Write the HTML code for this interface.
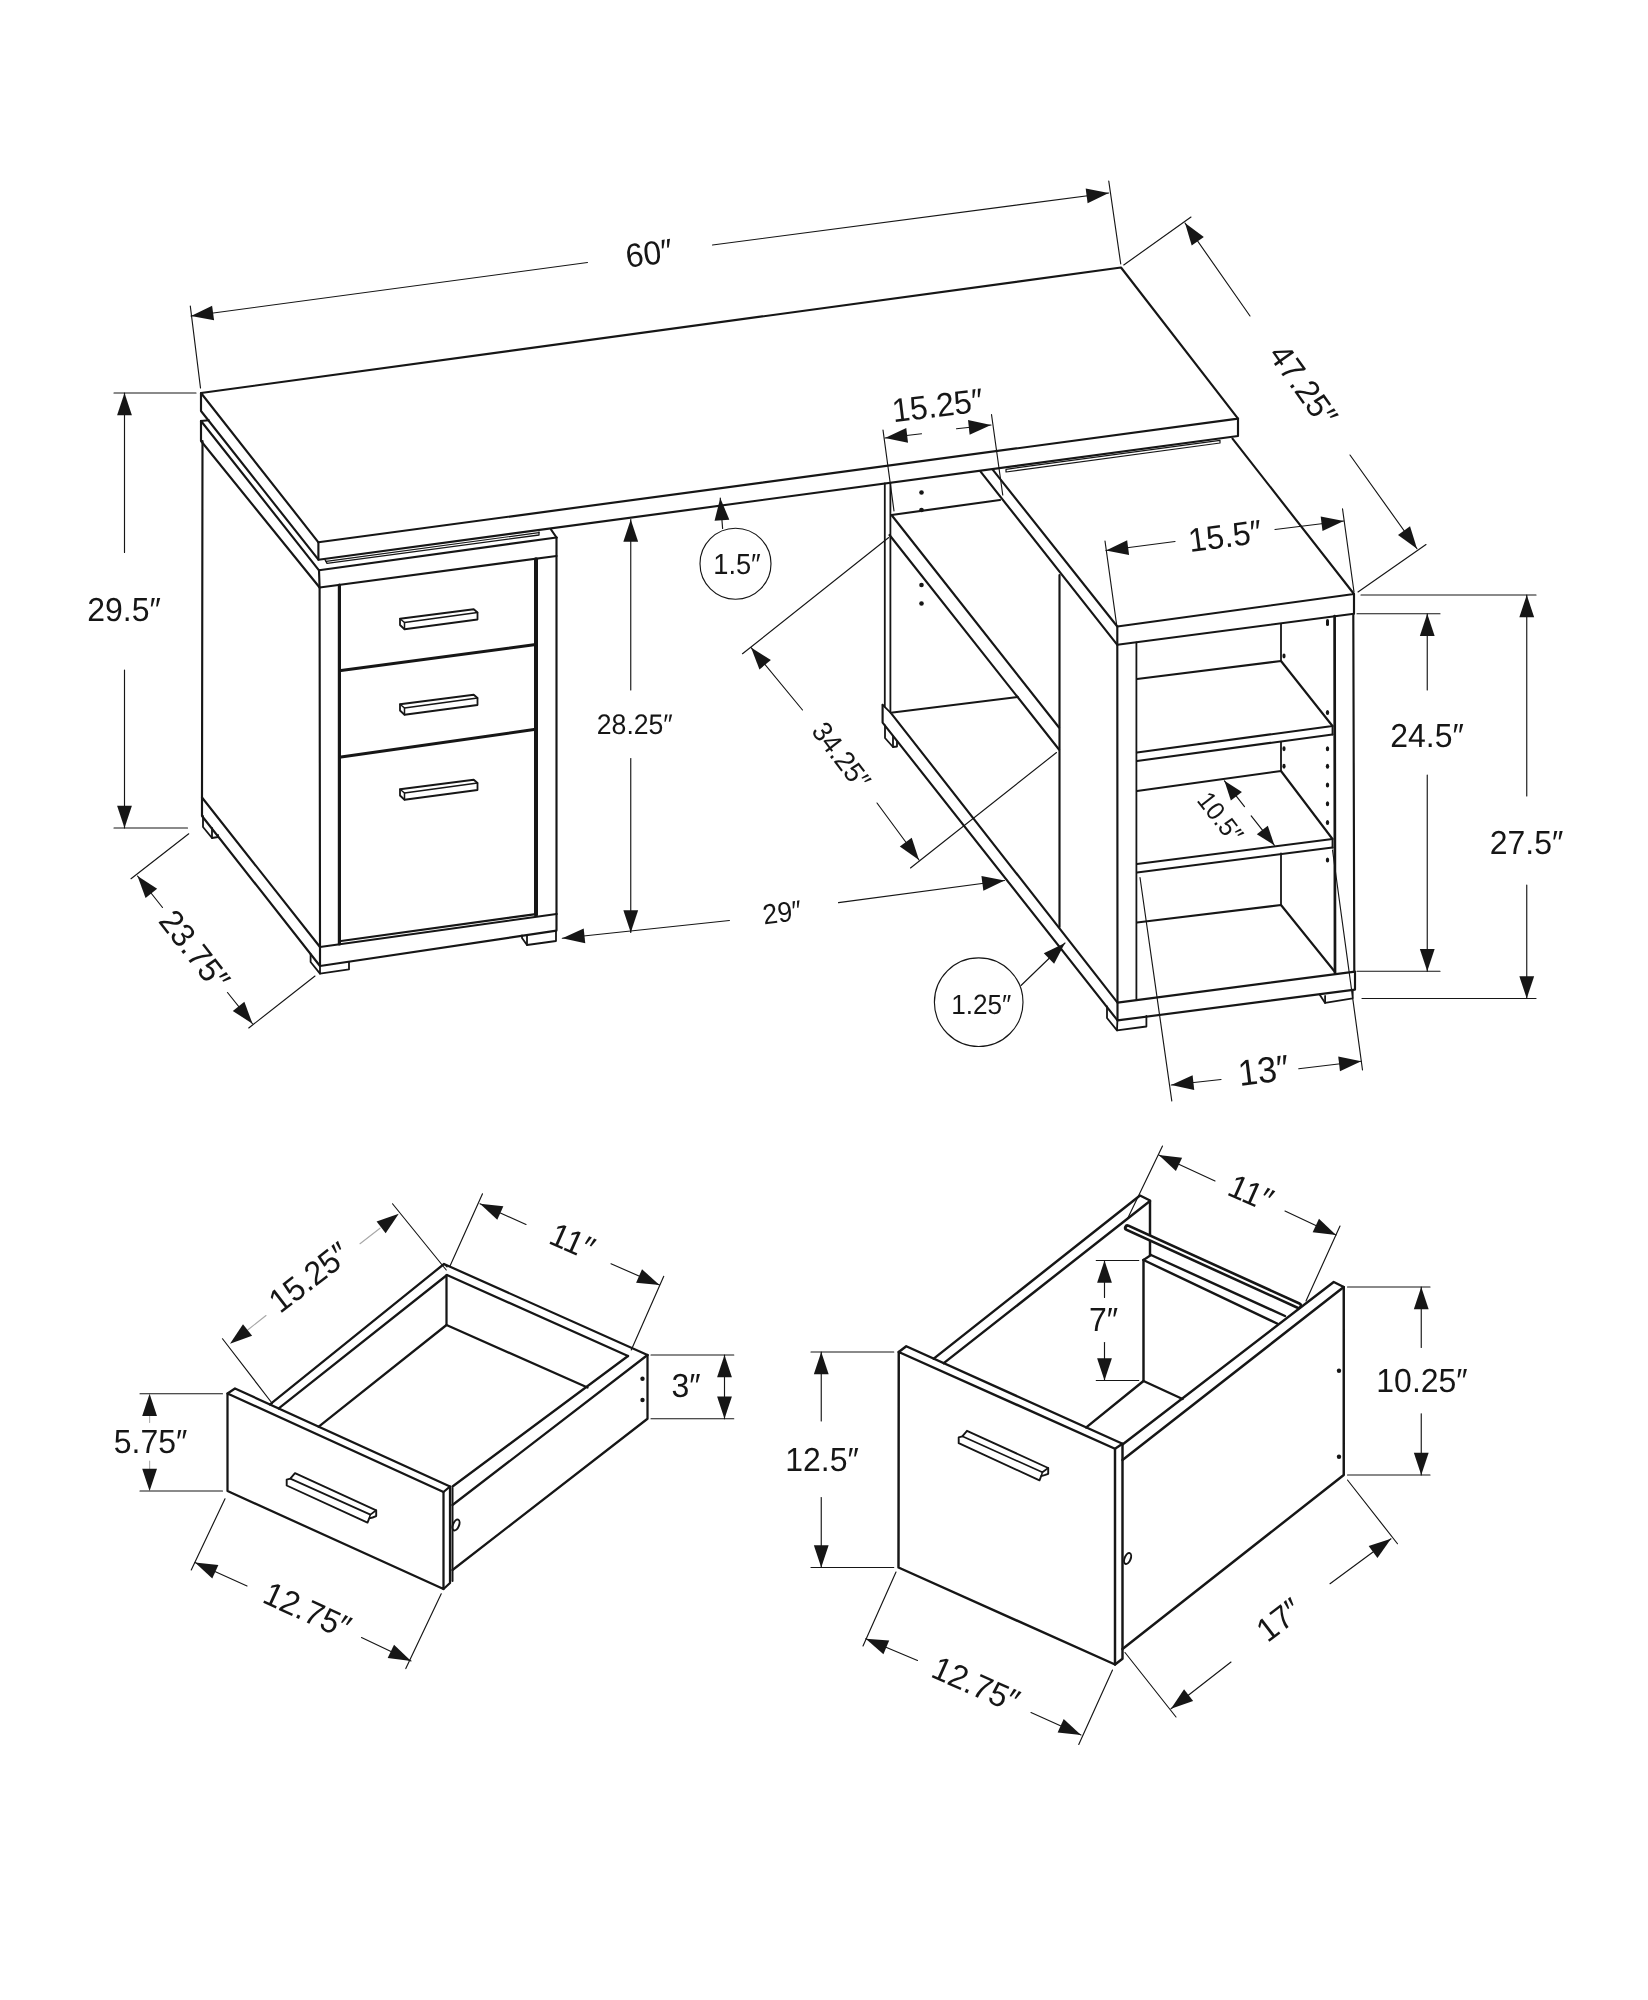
<!DOCTYPE html>
<html lang="en"><head><meta charset="utf-8"><title>Desk dimensions</title>
<style>
html,body{margin:0;padding:0;background:#fff}
body{width:1648px;height:2000px;overflow:hidden}
svg{display:block;will-change:transform}
svg path,svg circle,svg ellipse{fill:none;stroke:#161616;stroke-linecap:round;stroke-linejoin:round}
svg .fd{fill:#161616;stroke:none}
svg text{text-rendering:geometricPrecision;font-family:"Liberation Sans",Arial,Helvetica,sans-serif;fill:#161616;stroke:none}
</style></head><body>
<svg width="1648" height="2000" viewBox="0 0 1648 2000">
<rect x="0" y="0" width="1648" height="2000" fill="#fff" stroke="none"/>
<g id="desk">
<path d="M201 393 L1121 267.5 L1238 418.6 L318.4 542.3 Z" stroke-width="2.15" />
<path d="M201 393 L201 411 L318.4 559.7 L1238 436 L1238 418.6" stroke-width="2.15" />
<path d="M318.4 542.3 L318.4 559.7" stroke-width="2.15" />
<path d="M201 421 L319 570.3 L556.5 537.5" stroke-width="2.15" />
<path d="M201 421 L208.6 420.2" stroke-width="2.15" />
<path d="M201 421 L201 441 L319.6 587.5 L556.5 556" stroke-width="2.15" />
<path d="M319 570.3 L319.6 587.5" stroke-width="2.15" />
<path d="M556.5 537.5 L551 529.5" stroke-width="2.15" />
<path d="M325 559.6 L327 563.4 L539 535 L539 532" stroke-width="1.3" />
<path d="M326.2 561.3 L539 532.6" stroke-width="1.2" />
<path d="M202.5 441 L202 797.5" stroke-width="2.15" />
<path d="M319.6 587.5 L320 947" stroke-width="2.15" />
<path d="M556.5 537.5 L556.5 914" stroke-width="2.15" />
<path d="M202 797.5 L320 947 L556.5 914" stroke-width="2.15" />
<path d="M202 797.5 L202 816 L320 966 L556.5 930.6 L556.5 914" stroke-width="2.15" />
<path d="M320 947 L320 966" stroke-width="2.15" />
<path d="M339.4 585 L339.4 944" stroke-width="3.2" stroke-linecap="butt"/>
<path d="M536 559.2 L536 915" stroke-width="4" stroke-linecap="butt"/>
<path d="M341 670.5 L534 644.7" stroke-width="3" />
<path d="M341 757 L534 729.5" stroke-width="3" />
<path d="M341 941 L534 914.4" stroke-width="2.2" />
<path d="M400 618.75 L473.75 609.25 L477.5 612.5 L477.5 619.5 L404.5 629.25 L400 625 Z" stroke-width="1.8" />
<path d="M400 618.75 L404.5 622.5 L477.5 612.5" stroke-width="1.5" />
<path d="M404.5 622.5 L404.5 629.25" stroke-width="1.5" />
<path d="M400 704.25 L473.75 694.75 L477.5 698 L477.5 705 L404.5 714.75 L400 710.5 Z" stroke-width="1.8" />
<path d="M400 704.25 L404.5 708 L477.5 698" stroke-width="1.5" />
<path d="M404.5 708 L404.5 714.75" stroke-width="1.5" />
<path d="M400 789.25 L473.75 779.75 L477.5 783 L477.5 790 L404.5 799.75 L400 795.5 Z" stroke-width="1.8" />
<path d="M400 789.25 L404.5 793 L477.5 783" stroke-width="1.5" />
<path d="M404.5 793 L404.5 799.75" stroke-width="1.5" />
<path d="M310.6 954 L310.6 962 L320 973.6 L349 969.4 L349 961.8" stroke-width="1.8" />
<path d="M320 966 L320 973.6" stroke-width="1.8" />
<path d="M203 816 L203 827 L212 838 L218 837 L218 835" stroke-width="1.8" />
<path d="M212 828 L212 838" stroke-width="1.8" />
<path d="M522 935.3 L522 938 L527 945 L556 941 L556 930.7" stroke-width="1.8" />
<path d="M527 935 L527 945" stroke-width="1.8" />
</g>
<g id="right">
<path d="M884.8 483.5 L884.8 706.5" stroke-width="1.8" />
<path d="M890.4 483 L890.4 712" stroke-width="1.8" />
<path d="M1000 500 L891.5 515 L1059 727.5" stroke-width="2.15" />
<path d="M889.5 535 L1059 749.5" stroke-width="2.15" />
<path d="M1017.75 697 L890.8 712.8 L1117.5 1002.6" stroke-width="2.15" />
<path d="M882.6 704.8 L890.8 712.8" stroke-width="1.8" />
<path d="M882.6 704.8 L882.6 722.6 L1117.5 1020.4" stroke-width="2.15" />
<path d="M885 725.5 L885 738 L893 747 L897 746.5 L897 741.5" stroke-width="1.8" />
<path d="M893 736 L893 747" stroke-width="1.8" />
<circle class="fd" cx="921.5" cy="492.5" r="2.3"/>
<circle class="fd" cx="921.5" cy="510" r="2.3"/>
<circle class="fd" cx="921.5" cy="585" r="2.3"/>
<circle class="fd" cx="921.5" cy="603.5" r="2.3"/>
<path d="M992.7 469.6 L1117.3 626.5 L1354 594 L1232.5 438.6" stroke-width="2.15" />
<path d="M980.2 471.2 L1117.3 644.8 L1354 613.75 L1354 594" stroke-width="2.15" />
<path d="M1117.3 626.5 L1117.3 644.8" stroke-width="2.15" />
<path d="M1006 469.3 L1220 440.4 L1220 443 L1006 472 Z" stroke-width="1.2" />
<path d="M1059.5 575 L1059.5 927" stroke-width="2.15" />
<path d="M1117.3 644.8 L1117.5 1002.6" stroke-width="2.15" />
<path d="M1136.4 642.5 L1136.4 999" stroke-width="1.8" />
<path d="M1334.6 616 L1335 973" stroke-width="2.7" />
<path d="M1353.3 613.75 L1354.3 971.6" stroke-width="2.15" />
<path d="M1281 624 L1281 661" stroke-width="1.8" />
<path d="M1281 742 L1281 771" stroke-width="1.8" />
<path d="M1281 853.5 L1281 905" stroke-width="1.8" />
<path d="M1137 679 L1281 661 L1332.5 726 L1137 752.5" stroke-width="2.15" />
<path d="M1332.5 734.5 L1137 761" stroke-width="2.15" />
<path d="M1332.5 726 L1332.5 734.5" stroke-width="1.8" />
<path d="M1137 791 L1281 771 L1332.5 839 L1137 864" stroke-width="2.15" />
<path d="M1332.5 847.5 L1137 872.5" stroke-width="2.15" />
<path d="M1332.5 839 L1332.5 847.5" stroke-width="1.8" />
<path d="M1137 922.5 L1281 905 L1335 972" stroke-width="2.15" />
<path d="M1117.5 1002.6 L1355 971.6 L1355 989.6 L1117.5 1020.4 L1117.5 1002.6" stroke-width="2.15" />
<path d="M1107 1006.5 L1107 1018 L1117 1030.4 L1146.4 1026.5 L1146.4 1016" stroke-width="1.8" />
<path d="M1117.4 1020.4 L1117 1030.4" stroke-width="1.8" />
<path d="M1319.6 994.4 L1325.1 1002.9 L1352.7 998.3 L1352.7 990.2" stroke-width="1.8" />
<path d="M1325.1 996 L1325.1 1002.9" stroke-width="1.8" />
<ellipse class="fd" cx="0" cy="0" rx="1.7" ry="2.5" transform="translate(1327.5 712.5) rotate(0)"/>
<ellipse class="fd" cx="0" cy="0" rx="1.7" ry="2.5" transform="translate(1327.5 748.75) rotate(0)"/>
<ellipse class="fd" cx="0" cy="0" rx="1.7" ry="2.5" transform="translate(1327.5 766.25) rotate(0)"/>
<ellipse class="fd" cx="0" cy="0" rx="1.7" ry="2.5" transform="translate(1327.5 785) rotate(0)"/>
<ellipse class="fd" cx="0" cy="0" rx="1.7" ry="2.5" transform="translate(1327.5 803.75) rotate(0)"/>
<ellipse class="fd" cx="0" cy="0" rx="1.7" ry="2.5" transform="translate(1327.5 822.5) rotate(0)"/>
<ellipse class="fd" cx="0" cy="0" rx="1.7" ry="2.5" transform="translate(1327.5 860) rotate(0)"/>
<path d="M1327.5 620.5 L1327.5 624.5" stroke-width="3" />
<ellipse class="fd" cx="0" cy="0" rx="1.6" ry="2.4" transform="translate(1284 656) rotate(0)"/>
<ellipse class="fd" cx="0" cy="0" rx="1.6" ry="2.4" transform="translate(1284 748.75) rotate(0)"/>
<ellipse class="fd" cx="0" cy="0" rx="1.6" ry="2.4" transform="translate(1284 766.25) rotate(0)"/>
</g>
<g id="deskdims">
<path d="M190.3 306 L200.5 388" stroke-width="1.15" />
<path d="M1108.75 181 L1120.75 264" stroke-width="1.15" />
<path d="M587.5 262.5 L191 316" stroke-width="1.15" />
<polygon points="191,316 212.11,305.68 214.09,320.35" fill="#161616" stroke="none"/>
<path d="M712.5 245 L1108.75 193" stroke-width="1.15" />
<polygon points="1108.75,193 1087.6,203.24 1085.68,188.56" fill="#161616" stroke="none"/>
<text transform="translate(649 253) rotate(-7.7) scale(0.96 1)" x="0" y="11.82" font-size="33.3" text-anchor="middle">60″</text>
<path d="M114 393 L196 393" stroke-width="1.15" />
<path d="M114 828 L187.5 828" stroke-width="1.15" />
<path d="M124.5 552.5 L124.5 393" stroke-width="1.15" />
<polygon points="124.5,393 131.9,415.3 117.1,415.3" fill="#161616" stroke="none"/>
<path d="M124.5 670 L124.5 828" stroke-width="1.15" />
<polygon points="124.5,828 117.1,805.7 131.9,805.7" fill="#161616" stroke="none"/>
<text transform="translate(124 609.5) scale(0.96 1)" x="0" y="11.82" font-size="33.3" text-anchor="middle">29.5″</text>
<path d="M188.75 833.75 L131 878.75" stroke-width="1.15" />
<path d="M315 976 L248.75 1028" stroke-width="1.15" />
<path d="M162.5 907.5 L137.5 876" stroke-width="1.15" />
<polygon points="137.5,876 157.16,888.87 145.57,898.07" fill="#161616" stroke="none"/>
<path d="M227.5 992.5 L252.5 1023.75" stroke-width="1.15" />
<polygon points="252.5,1023.75 232.79,1010.96 244.35,1001.71" fill="#161616" stroke="none"/>
<text transform="translate(195 950) rotate(52) scale(0.96 1)" x="0" y="11.82" font-size="33.3" text-anchor="middle">23.75″</text>
<path d="M630.75 690 L630.75 519.5" stroke-width="1.15" />
<polygon points="630.75,519.5 638.15,541.8 623.35,541.8" fill="#161616" stroke="none"/>
<path d="M630.75 758.5 L630.75 932.5" stroke-width="1.15" />
<polygon points="630.75,932.5 623.35,910.2 638.15,910.2" fill="#161616" stroke="none"/>
<text transform="translate(634.8 723.9) scale(0.94 1)" x="0" y="10.05" font-size="28.3" text-anchor="middle">28.25″</text>
<circle cx="735.5" cy="563.75" r="35.5" stroke-width="1.15"/>
<path d="M722.6 528.5 L720.25 498" stroke-width="1.15" />
<polygon points="720.25,498 729.34,519.67 714.58,520.8" fill="#161616" stroke="none"/>
<text transform="translate(737 564) scale(0.94 1)" x="0" y="10.29" font-size="29" text-anchor="middle">1.5″</text>
<path d="M729.4 920.5 L562.3 938.2" stroke-width="1.15" />
<polygon points="562.3,938.2 583.7,928.49 585.26,943.21" fill="#161616" stroke="none"/>
<path d="M838.5 902.6 L1004.5 880.5" stroke-width="1.15" />
<polygon points="1004.5,880.5 983.37,890.78 981.42,876.11" fill="#161616" stroke="none"/>
<text transform="translate(782 912) rotate(-7.5) scale(0.94 1)" x="0" y="10.05" font-size="28.3" text-anchor="middle">29″</text>
<path d="M888.75 537.5 L742.5 653.75" stroke-width="1.15" />
<path d="M1056.5 752.5 L910.5 868" stroke-width="1.15" />
<path d="M802.5 710 L751 647.5" stroke-width="1.15" />
<polygon points="751,647.5 770.89,660 759.47,669.42" fill="#161616" stroke="none"/>
<path d="M877 803 L919 860" stroke-width="1.15" />
<polygon points="919,860 899.81,846.44 911.73,837.66" fill="#161616" stroke="none"/>
<text transform="translate(841.5 755.5) rotate(52.5) scale(0.94 1)" x="0" y="10.05" font-size="28.3" text-anchor="middle">34.25″</text>
<path d="M883 430 L894 511" stroke-width="1.15" />
<path d="M991.5 414.5 L1002.75 495" stroke-width="1.15" />
<path d="M921.5 433.75 L885 438" stroke-width="1.15" />
<polygon points="885,438 906.29,428.07 908.01,442.77" fill="#161616" stroke="none"/>
<path d="M956.5 428.75 L991 425" stroke-width="1.15" />
<polygon points="991,425 969.63,434.77 968.03,420.05" fill="#161616" stroke="none"/>
<text transform="translate(937.5 405) rotate(-7) scale(0.96 1)" x="0" y="11.82" font-size="33.3" text-anchor="middle">15.25″</text>
<path d="M1105 541 L1116.8 626" stroke-width="1.15" />
<path d="M1342.5 508.75 L1354 592" stroke-width="1.15" />
<path d="M1175 541.5 L1106 550.5" stroke-width="1.15" />
<polygon points="1106,550.5 1127.16,540.28 1129.07,554.95" fill="#161616" stroke="none"/>
<path d="M1275 529.5 L1343.75 521" stroke-width="1.15" />
<polygon points="1343.75,521 1322.53,531.08 1320.71,516.39" fill="#161616" stroke="none"/>
<text transform="translate(1225 535.5) rotate(-7.5) scale(0.96 1)" x="0" y="11.82" font-size="33.3" text-anchor="middle">15.5″</text>
<path d="M1123.75 265 L1191 217" stroke-width="1.15" />
<path d="M1358 592 L1426 544.5" stroke-width="1.15" />
<path d="M1250 316 L1185 223" stroke-width="1.15" />
<polygon points="1185,223 1203.84,237.04 1191.71,245.52" fill="#161616" stroke="none"/>
<path d="M1350 455 L1417 548.75" stroke-width="1.15" />
<polygon points="1417,548.75 1398.01,534.91 1410.05,526.3" fill="#161616" stroke="none"/>
<text transform="translate(1303.75 385) rotate(54.5) scale(0.96 1)" x="0" y="11.82" font-size="33.3" text-anchor="middle">47.25″</text>
<path d="M1357 613.75 L1440 613.75" stroke-width="1.15" />
<path d="M1357 971.25 L1440 971.25" stroke-width="1.15" />
<path d="M1427.25 690 L1427.25 613.75" stroke-width="1.15" />
<polygon points="1427.25,613.75 1434.65,636.05 1419.85,636.05" fill="#161616" stroke="none"/>
<path d="M1427.25 775 L1427.25 971.25" stroke-width="1.15" />
<polygon points="1427.25,971.25 1419.85,948.95 1434.65,948.95" fill="#161616" stroke="none"/>
<text transform="translate(1427 735.5) scale(0.96 1)" x="0" y="11.82" font-size="33.3" text-anchor="middle">24.5″</text>
<path d="M1361 595 L1536 595" stroke-width="1.15" />
<path d="M1362 998.5 L1536 998.5" stroke-width="1.15" />
<path d="M1526.75 796 L1526.75 595" stroke-width="1.15" />
<polygon points="1526.75,595 1534.15,617.3 1519.35,617.3" fill="#161616" stroke="none"/>
<path d="M1526.75 885 L1526.75 998.5" stroke-width="1.15" />
<polygon points="1526.75,998.5 1519.35,976.2 1534.15,976.2" fill="#161616" stroke="none"/>
<text transform="translate(1526.5 842) scale(0.96 1)" x="0" y="11.82" font-size="33.3" text-anchor="middle">27.5″</text>
<path d="M1244.5 806.6 L1224.4 780.8" stroke-width="1.15" />
<polygon points="1224.4,780.8 1241.91,791.88 1230.86,800.48" fill="#161616" stroke="none"/>
<path d="M1251.2 815.9 L1274.4 845.3" stroke-width="1.15" />
<polygon points="1274.4,845.3 1256.83,834.33 1267.82,825.66" fill="#161616" stroke="none"/>
<text transform="translate(1220.5 817) rotate(52) scale(0.94 1)" x="0" y="9.23" font-size="26" text-anchor="middle">10.5″</text>
<path d="M1140 877.5 L1171.8 1101" stroke-width="1.15" />
<path d="M1332.5 850 L1362.5 1070" stroke-width="1.15" />
<path d="M1221 1079.5 L1171.25 1085" stroke-width="1.15" />
<polygon points="1171.25,1085 1192.6,1075.19 1194.23,1089.9" fill="#161616" stroke="none"/>
<path d="M1298.75 1068.75 L1361.25 1061.25" stroke-width="1.15" />
<polygon points="1361.25,1061.25 1339.99,1071.25 1338.23,1056.56" fill="#161616" stroke="none"/>
<text transform="translate(1263.5 1070) rotate(-7) scale(0.95 1)" x="0" y="12.96" font-size="36.5" text-anchor="middle">13″</text>
<circle cx="978.7" cy="1002.2" r="44.3" stroke-width="1.15"/>
<path d="M1021 985.5 L1065 943" stroke-width="1.15" />
<polygon points="1065,943 1054.1,963.82 1043.82,953.17" fill="#161616" stroke="none"/>
<text transform="translate(981.3 1003.7) scale(0.94 1)" x="0" y="9.87" font-size="27.8" text-anchor="middle">1.25″</text>
</g>
<g id="smalldrawer">
<path d="M227.5 1393.5 L443.5 1492 L443.5 1589 L227.5 1491 Z" stroke-width="2.25" />
<path d="M227.5 1393.5 L235 1388.5 L450 1486.5 L450 1583 L443.5 1589" stroke-width="2.25" />
<path d="M443.5 1492 L450 1486.5" stroke-width="2.25" />
<path d="M270 1404.45 L444 1264 L647.5 1355" stroke-width="2.25" />
<path d="M278.75 1408.44 L447 1275 L628 1356" stroke-width="2.25" />
<path d="M444 1264 L447 1266.8" stroke-width="1.4" />
<path d="M628 1356 L452.5 1486.5" stroke-width="2.25" />
<path d="M647.5 1355 L452.5 1505" stroke-width="2.25" />
<path d="M647.5 1355 L647.5 1418.75 L452.5 1570" stroke-width="2.25" />
<path d="M452.5 1488 L452.5 1581" stroke-width="2" />
<path d="M446.5 1275 L446.5 1325" stroke-width="2.25" />
<path d="M318.75 1426.7 L446.5 1325 L587.5 1387.5" stroke-width="2.25" />
<path d="M286.7 1479.7 L290.3 1478.6 L295 1473.1 L376.2 1510.3 L376.2 1516.1 L372.6 1517.5 L369.2 1518.3 L367.5 1522.6 L286.7 1485.5 Z" stroke-width="1.9" />
<path d="M290.3 1478.6 L370.4 1514.6 L376.2 1510.3" stroke-width="1.7" />
<path d="M370.4 1514.6 L369.2 1518.3" stroke-width="1.5" />
<ellipse cx="0" cy="0" rx="3" ry="5.8" transform="translate(456 1525) rotate(22)" stroke-width="2"/>
<circle class="fd" cx="642.5" cy="1378.75" r="2.2"/>
<circle class="fd" cx="642.5" cy="1400" r="2.2"/>
<path d="M140 1393.75 L222.5 1393.75" stroke-width="1.15" />
<path d="M140 1491 L222.5 1491" stroke-width="1.15" />
<path d="M149.6 1416 L149.6 1422.5" stroke-width="1.15" style="stroke:#b0b0b0"/>
<path d="M149.6 1461 L149.6 1469" stroke-width="1.15" style="stroke:#b0b0b0"/>
<polygon points="149.6,1393.75 157,1416.05 142.2,1416.05" fill="#161616" stroke="none"/>
<polygon points="149.6,1491 142.2,1468.7 157,1468.7" fill="#161616" stroke="none"/>
<text transform="translate(150.5 1441.4) scale(0.96 1)" x="0" y="11.82" font-size="33.3" text-anchor="middle">5.75″</text>
<path d="M222.5 1338.75 L272.5 1403.75" stroke-width="1.15" />
<path d="M392.5 1203.75 L446.25 1270" stroke-width="1.15" />
<path d="M248 1329.7 L266 1315.5" stroke-width="1.15" style="stroke:#a8a8a8"/>
<path d="M380 1228.2 L360 1243.75" stroke-width="1.15" style="stroke:#a8a8a8"/>
<polygon points="230,1343.75 242.98,1324.16 252.11,1335.8" fill="#161616" stroke="none"/>
<polygon points="398.75,1213.75 385.65,1233.25 376.59,1221.55" fill="#161616" stroke="none"/>
<text transform="translate(309 1277) rotate(-37.6) scale(0.96 1)" x="0" y="11.82" font-size="33.3" text-anchor="middle">15.25″</text>
<path d="M482.5 1193.75 L450 1266" stroke-width="1.15" />
<path d="M663.75 1276.25 L631.25 1350" stroke-width="1.15" />
<path d="M526 1224.5 L480 1203.75" stroke-width="1.15" />
<polygon points="480,1203.75 503.37,1206.17 497.28,1219.66" fill="#161616" stroke="none"/>
<path d="M611 1263.75 L659.5 1285" stroke-width="1.15" />
<polygon points="659.5,1285 636.1,1282.83 642.04,1269.27" fill="#161616" stroke="none"/>
<text transform="translate(572.5 1241) rotate(24) scale(0.96 1)" x="0" y="11.82" font-size="33.3" text-anchor="middle">11″</text>
<path d="M651 1355 L733.75 1355" stroke-width="1.15" />
<path d="M651 1418.75 L733.75 1418.75" stroke-width="1.15" />
<path d="M724.5 1387 L724.5 1355" stroke-width="1.15" />
<polygon points="724.5,1355 731.9,1377.3 717.1,1377.3" fill="#161616" stroke="none"/>
<path d="M724.5 1387 L724.5 1418.75" stroke-width="1.15" />
<polygon points="724.5,1418.75 717.1,1396.45 731.9,1396.45" fill="#161616" stroke="none"/>
<text transform="translate(686 1385) scale(0.96 1)" x="0" y="11.82" font-size="33.3" text-anchor="middle">3″</text>
<path d="M225 1498.75 L191.25 1570" stroke-width="1.15" />
<path d="M441.25 1593.75 L405.8 1668.6" stroke-width="1.15" />
<path d="M247 1586 L195 1562.5" stroke-width="1.15" />
<polygon points="195,1562.5 218.37,1564.94 212.27,1578.43" fill="#161616" stroke="none"/>
<path d="M361.5 1637.5 L411 1661" stroke-width="1.15" />
<polygon points="411,1661 387.68,1658.12 394.03,1644.75" fill="#161616" stroke="none"/>
<text transform="translate(307.5 1610) rotate(24.5) scale(0.96 1)" x="0" y="11.82" font-size="33.3" text-anchor="middle">12.75″</text>
</g>
<g id="bigdrawer">
<path d="M898.75 1352 L1115 1448.75 L1115 1664.5 L898.5 1567.5 Z" stroke-width="2.45" />
<path d="M898.75 1352 L906.25 1346.25 L1122.5 1443.75 L1122.5 1658.75 L1115 1664.5" stroke-width="2.45" />
<path d="M1115 1448.75 L1122.5 1443.75" stroke-width="2.45" />
<path d="M933.75 1358.65 L1140 1195.5 L1150 1200.5 L1150 1255" stroke-width="2.45" />
<path d="M943.75 1363.16 L1150 1201" stroke-width="2.45" />
<path d="M1151 1255 L1285 1316" stroke-width="2.45" />
<path d="M1143.5 1260 L1277.5 1323.75" stroke-width="2.45" />
<path d="M1143.5 1260 L1151 1255" stroke-width="2.2" />
<path d="M1127.5 1227.8 L1298.5 1305.6" stroke-width="7.2" />
<path d="M1127.8 1227.95 L1298.5 1305.6" stroke-width="2" style="stroke:#fff"/>
<path d="M1122.5 1444.5 L1333.75 1282 L1343.75 1287 L1343.75 1475 L1122.5 1649" stroke-width="2.45" />
<path d="M1343.75 1287 L1122.5 1460" stroke-width="2.45" />
<path d="M1143.5 1260 L1143.5 1381" stroke-width="2.45" />
<path d="M1086.25 1427.4 L1143.5 1381 L1182.6 1399" stroke-width="2.45" />
<path d="M958.7 1437.4 L962.3 1436.3 L967 1430.8 L1048.2 1468 L1048.2 1473.8 L1044.6 1475.2 L1041.2 1476 L1039.5 1480.3 L958.7 1443.2 Z" stroke-width="1.9" />
<path d="M962.3 1436.3 L1042.4 1472.3 L1048.2 1468" stroke-width="1.7" />
<path d="M1042.4 1472.3 L1041.2 1476" stroke-width="1.5" />
<ellipse cx="0" cy="0" rx="3" ry="5.8" transform="translate(1127.6 1558.5) rotate(22)" stroke-width="2"/>
<circle class="fd" cx="1339" cy="1370.75" r="2.2"/>
<circle class="fd" cx="1339" cy="1456.75" r="2.2"/>
<path d="M811 1352 L893.75 1352" stroke-width="1.15" />
<path d="M811 1567.5 L893.75 1567.5" stroke-width="1.15" />
<path d="M821.25 1421 L821.25 1352" stroke-width="1.15" />
<polygon points="821.25,1352 828.65,1374.3 813.85,1374.3" fill="#161616" stroke="none"/>
<path d="M821.25 1497.5 L821.25 1567.5" stroke-width="1.15" />
<polygon points="821.25,1567.5 813.85,1545.2 828.65,1545.2" fill="#161616" stroke="none"/>
<text transform="translate(822 1459) scale(0.96 1)" x="0" y="11.82" font-size="33.3" text-anchor="middle">12.5″</text>
<path d="M1096.25 1260.5 L1138.75 1260.5" stroke-width="1.15" />
<path d="M1096.25 1380.5 L1138.75 1380.5" stroke-width="1.15" />
<path d="M1104.5 1297.5 L1104.5 1260.5" stroke-width="1.15" />
<polygon points="1104.5,1260.5 1111.9,1282.8 1097.1,1282.8" fill="#161616" stroke="none"/>
<path d="M1104.5 1342.5 L1104.5 1380.5" stroke-width="1.15" />
<polygon points="1104.5,1380.5 1097.1,1358.2 1111.9,1358.2" fill="#161616" stroke="none"/>
<text transform="translate(1103.5 1319.5) scale(0.96 1)" x="0" y="11.82" font-size="33.3" text-anchor="middle">7″</text>
<path d="M1162.5 1146 L1127.5 1218.75" stroke-width="1.15" />
<path d="M1340 1226 L1306 1301" stroke-width="1.15" />
<path d="M1215 1181 L1158.75 1155" stroke-width="1.15" />
<polygon points="1158.75,1155 1182.1,1157.64 1175.89,1171.07" fill="#161616" stroke="none"/>
<path d="M1285 1211 L1336 1235" stroke-width="1.15" />
<polygon points="1336,1235 1312.67,1232.2 1318.97,1218.81" fill="#161616" stroke="none"/>
<text transform="translate(1251 1192.5) rotate(24) scale(0.96 1)" x="0" y="11.82" font-size="33.3" text-anchor="middle">11″</text>
<path d="M1347.5 1287 L1430 1287" stroke-width="1.15" />
<path d="M1347.5 1475 L1430 1475" stroke-width="1.15" />
<path d="M1421.25 1347.5 L1421.25 1287" stroke-width="1.15" />
<polygon points="1421.25,1287 1428.65,1309.3 1413.85,1309.3" fill="#161616" stroke="none"/>
<path d="M1421.25 1413.75 L1421.25 1475" stroke-width="1.15" />
<polygon points="1421.25,1475 1413.85,1452.7 1428.65,1452.7" fill="#161616" stroke="none"/>
<text transform="translate(1422 1380.5) scale(0.96 1)" x="0" y="11.82" font-size="33.3" text-anchor="middle">10.25″</text>
<path d="M1125 1652.5 L1176 1717" stroke-width="1.15" />
<path d="M1347.5 1480 L1397.5 1543.75" stroke-width="1.15" />
<path d="M1231 1662 L1171 1708.75" stroke-width="1.15" />
<polygon points="1171,1708.75 1184.04,1689.21 1193.14,1700.88" fill="#161616" stroke="none"/>
<path d="M1330 1583.75 L1391 1538.75" stroke-width="1.15" />
<polygon points="1391,1538.75 1377.45,1557.94 1368.66,1546.03" fill="#161616" stroke="none"/>
<text transform="translate(1279 1619.5) rotate(-37.5) scale(0.96 1)" x="0" y="11.82" font-size="33.3" text-anchor="middle">17″</text>
<path d="M896 1572 L863 1646" stroke-width="1.15" />
<path d="M1112.5 1670 L1078.75 1744.5" stroke-width="1.15" />
<path d="M917.5 1660.5 L865.75 1638.75" stroke-width="1.15" />
<polygon points="865.75,1638.75 889.18,1640.57 883.44,1654.21" fill="#161616" stroke="none"/>
<path d="M1031 1712.5 L1081 1735" stroke-width="1.15" />
<polygon points="1081,1735 1057.63,1732.6 1063.7,1719.1" fill="#161616" stroke="none"/>
<text transform="translate(976 1684) rotate(24) scale(0.96 1)" x="0" y="11.82" font-size="33.3" text-anchor="middle">12.75″</text>
</g>
</svg>
</body></html>
